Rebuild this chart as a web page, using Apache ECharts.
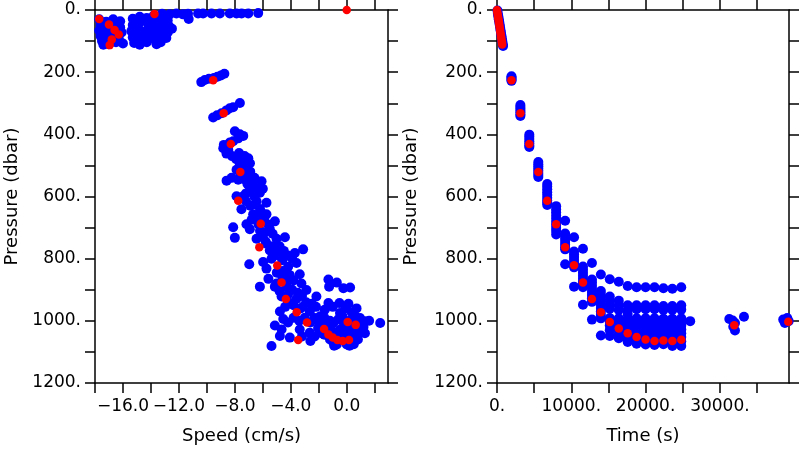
<!DOCTYPE html>
<html>
<head>
<meta charset="utf-8">
<script src="https://cdn.jsdelivr.net/npm/echarts@6/dist/echarts.min.js"></script>
<style>html,body{margin:0;padding:0;background:#fff;}#c{width:800px;height:450px;}</style>
</head>
<body>
<div id="c"></div>
<script>
// ---------- tick / label values ----------
const speedTicks = [-18,-16,-14,-12,-10,-8,-6,-4,-2,0,2];
const speedLabels = [-16,-12,-8,-4,0];
const pressTicks = [0,100,200,300,400,500,600,700,800,900,1000,1100,1200];
const pressLabels = [0,200,400,600,800,1000,1200];
const timeTicks = [0,5000,10000,15000,20000,25000,30000,35000];
const timeLabels = [0,10000,20000,30000];

// ---------- left panel: speed (cm/s) vs pressure (dbar) ----------
const speedPressBlue = [
  // surface descent cluster
  [-17.7,30],[-17.6,48],[-17.7,66],[-17.6,84],[-17.5,100],[-17.4,112],
  [-17.2,38],[-17.1,58],[-17.2,76],[-17.1,94],[-17.0,110],
  [-16.7,30],[-16.6,50],[-16.7,70],[-16.6,88],[-16.5,104],
  [-16.2,36],[-16.2,56],[-16.1,72],[-16.3,92],[-16.0,108],
  [-15.3,28],[-15.3,48],[-15.4,68],[-15.3,88],[-15.2,106],
  [-14.8,22],[-14.8,40],[-14.9,60],[-14.8,80],[-14.7,98],[-14.8,112],
  [-14.3,26],[-14.2,46],[-14.3,66],[-14.2,86],[-14.3,104],
  [-13.8,18],[-13.8,36],[-13.7,56],[-13.8,76],[-13.7,96],[-13.6,110],
  [-13.3,24],[-13.2,44],[-13.3,64],[-13.2,84],[-13.3,104],
  [-12.8,34],[-12.7,52],[-12.8,72],[-12.9,90],[-12.5,60],
  [-13.2,12],[-12.66,14],[-12.18,11],[-11.71,14],[-11.3,29],[-11.35,12],[-10.63,11],
  [-10.27,11],[-9.67,11],[-9.07,11],[-8.36,11],[-7.88,11],[-7.52,11],[-7.04,11],[-6.33,10],
  // ~220 dbar
  [-10.4,232],[-10.15,225],[-9.85,221],[-9.5,219],[-9.25,215],[-9.0,211],[-8.75,205],
  // ~330 dbar
  [-9.55,346],[-9.27,339],[-8.95,332],[-8.6,323],[-8.36,316],[-8.12,313],[-7.64,299],
  // ~420 dbar
  [-8.0,390],[-7.64,400],[-7.4,405],[-7.76,413],[-8.12,422],[-8.36,426],[-8.79,434],[-8.83,445],[-8.47,450],
  // ~500 dbar
  [-7.04,477],[-6.92,493],[-7.4,487],[-7.64,498],[-7.88,514],[-7.16,511],[-7.28,524],[-7.04,535],
  [-8.23,540],[-8.59,549],[-7.76,546],[-6.8,551],[-6.09,551],[-6.92,572],[-6.56,577],
  [-8.6,462],[-8.2,470],[-7.7,460],[-7.3,470],[-7.9,480],[-7.6,530],[-7.3,545],[-6.9,520],
  [-6.6,540],[-7.1,560],[-6.4,560],[-6.0,575],[-7.2,590],
  // main streak
  [-7.88,599],[-7.41,599],[-6.93,583],[-6.81,572],[-6.21,588],[-6.45,615],[-6.57,625],[-5.74,620],
  [-7.53,641],[-6.69,657],[-6.09,652],[-5.74,657],[-5.14,680],[-7.17,689],[-6.93,705],[-8.12,699],
  [-8.0,733],[-5.86,715],[-5.5,705],[-6.45,736],[-5.02,736],[-4.42,731],[-5.74,752],[-5.5,774],
  [-3.71,782],[-3.12,770],[-6.97,818],[-5.98,811],[-5.74,832],[-5.38,800],[-4.19,826],[-3.59,814],
  [-4.07,853],[-3.36,850],[-6.21,890],[-5.14,890],[-5.02,880],[-4.3,890],[-3.24,880],[-2.88,901],
  [-2.17,922],[-4.66,922],[-4.07,943],[-4.78,970],[-3.12,954],[-2.64,970],[-2.29,991],[-1.57,964],
  [-4.54,994],[-5.14,1015],[-4.66,1028],[-4.78,1049],[-4.07,1054],[-5.38,1081],[-3.36,1028],
  [-2.64,1038],[-2.05,1023],
  [-6.6,600],[-6.2,640],[-5.9,670],[-6.3,690],[-6.0,730],[-5.3,760],[-4.9,790],[-4.6,840],
  [-4.4,870],[-3.9,900],[-3.6,930],[-3.3,960],[-3.0,990],[-2.6,1005],[-3.8,990],[-4.2,1005],
  [-3.5,910],[-2.5,945],[-1.9,985],[-1.8,1010],[-2.6,1065],[-3.2,1050],
  [-7.2,615],[-6.9,630],[-6.4,665],[-6.8,675],[-5.6,690],[-5.3,720],[-6.2,710],[-5.8,745],
  [-4.8,760],[-4.5,775],[-4.2,790],[-5.2,780],[-4.6,805],[-3.9,800],
  [-5.0,845],[-4.6,860],[-3.8,870],[-5.6,865],[-4.8,905],[-4.2,915],[-3.2,920],[-2.9,940],
  [-3.8,950],[-4.4,955],[-2.2,955],[-2.0,1000],[-3.4,1000],[-2.3,1050],[-1.6,1045],
  // bottom-right clump
  [-1.31,867],[-0.71,877],[-1.26,890],[-0.24,895],[0.24,893],[-0.52,943],[0.12,945],[-1.31,943],
  [-0.48,975],[0.36,973],[0.95,991],[1.31,1001],[2.39,1007],[-1.43,1006],[-0.95,1006],
  [-0.48,1028],[0.0,1023],[0.48,1028],[-0.71,1076],[0.0,1076],[-0.95,1070],
  [-1.1,1030],[-0.2,1045],[0.5,1050],[1.0,1015],[0.9,1040],[-1.0,955],[-0.1,960],[0.7,960],
  [0.9,1000],[1.6,1000],[-1.2,1060],[-0.4,1060],[0.3,1065],
  [-1.6,990],[-0.6,995],[0.2,1000],[-0.2,1010],[0.6,985],[1.2,1020],[-1.5,1025],[0.5,1075],
  [-1.2,1000],[-0.3,985],[0.4,1040],[-0.8,1040],[0.8,1060],[-1.8,1040],[1.3,1040],[-0.9,1080],[0.2,1080]
];
const speedPressRed = [
  [-17.7,29],[-17.0,47],[-16.6,64],[-16.3,79],[-16.8,95],[-16.95,113],[-13.75,13],[0,0],
  [-9.55,226],[-8.8,332],[-8.29,431],[-7.61,521],[-7.76,614],[-6.15,688],[-6.25,763],
  [-4.97,822],[-4.66,877],[-4.35,930],[-3.58,972],[-2.84,1005],[-3.47,1062],
  [-1.62,1026],[-1.31,1044],[-1.0,1054],[-0.67,1062],[-0.29,1065],[0.16,1062],[0.07,1004],[0.64,1013]
];

// ---------- right panel: time (s) vs pressure (dbar) ----------
const descentBlue = [[60,2],[120,12],[180,21],[240,30],[300,38],[360,47],[420,56],[480,65],[540,74],[600,83],[660,92],[720,101],[780,110],[820,116]];
const descentRed = [[0,0],[50,8],[100,16],[150,24],[210,32],[260,40],[310,48],[360,56],[410,64],[460,72],[510,80],[560,88],[610,96],[660,104],[700,111]];
const colTimes = [1950,3150,4350,5560,6760,7960,9170,10370,11570,12780,13980,15180,16390,17590,18790,20000,21200,22400,23600,24800,26000];
const colPressures = [
  [213,217,221,225,228],
  [306,312,318,324,330,336,341],
  [401,408,415,422,429,436,441],
  [489,496,503,510,517,524,531,537],
  [560,568,577,586,595,604,613,620,627],
  [631,641,651,661,671,681,691,701,711,722],
  [678,719,728,737,746,755,763,770,818],
  [731,777,786,795,804,813,821,828,890],
  [768,825,835,845,855,865,875,884,892,948],
  [814,867,877,887,897,907,917,927,939,996],
  [851,904,915,926,937,948,959,970,981,992,1047],
  [866,922,935,948,961,991,1002,1015,1030,1049],
  [874,935,950,965,992,1005,1018,1031,1044,1056],
  [888,950,965,978,993,1006,1019,1032,1047,1060,1068],
  [892,950,963,992,1004,1016,1028,1040,1055,1068,1074],
  [892,950,963,992,1004,1016,1028,1040,1052,1066,1076],
  [892,950,963,992,1004,1016,1028,1040,1052,1068,1078],
  [895,952,965,993,1005,1017,1029,1041,1053,1066,1075],
  [897,952,965,993,1005,1017,1029,1041,1053,1068,1081],
  [892,950,964,992,1004,1016,1028,1040,1052,1066,1081],
  [1001]
];
const lateBlue = [[31265,994],[31720,999],[32030,1007],[31800,1019],[32030,1031],[33240,987],[38520,996],[38750,1007],[39060,991],[39250,1001]];
const timePressRed = [
  [1950,226],[3150,332],[4350,431],[5560,521],[6760,614],[7960,689],[9170,763],[10370,821],
  [11570,877],[12780,930],[13980,972],[15180,1004],[16390,1025],[17590,1040],[18790,1052],
  [20000,1060],[21200,1065],[22400,1063],[23600,1065],[24800,1061],[31935,1014],[39200,1003]
];

// ---------- build ----------
const timePressBlue = descentBlue.slice();
colTimes.forEach((t, i) => colPressures[i].forEach(p => timePressBlue.push([t, p])));
lateBlue.forEach(d => timePressBlue.push(d));
const timePressRedAll = descentRed.concat(timePressRed);

const FONT = 'DejaVu Sans';
const lineStyle = {color: '#000', width: 1.5};
const fmtSpeed = v => (v < 0 ? '\u2212' : '') + Math.abs(v).toFixed(1);
const fmtDot = v => String(v) + '.';

function xAxisDef(grid, pos, min, max, ticks, labels, fmt, name) {
  const ax = {
    gridIndex: grid, type: 'value', position: pos, min: min, max: max,
    axisLine: {show: true, onZero: false, lineStyle: lineStyle},
    axisTick: {show: true, inside: false, length: 10, customValues: ticks, lineStyle: lineStyle},
    splitLine: {show: false},
    axisLabel: pos === 'bottom'
      ? {show: true, customValues: labels, formatter: fmt, margin: 15, fontSize: 17, color: '#000', fontFamily: FONT}
      : {show: false}
  };
  if (name) {
    ax.name = name; ax.nameLocation = 'middle'; ax.nameGap = 44;
    ax.nameTextStyle = {fontSize: 18, color: '#000', fontFamily: FONT};
  }
  return ax;
}
function yAxisDef(grid, pos, name, gap) {
  const ax = {
    gridIndex: grid, type: 'value', position: pos, min: 0, max: 1200, inverse: true,
    axisLine: {show: true, onZero: false, lineStyle: lineStyle},
    axisTick: {show: true, inside: false, length: 10, customValues: pressTicks, lineStyle: lineStyle},
    splitLine: {show: false},
    axisLabel: pos === 'left'
      ? {show: true, customValues: pressLabels, formatter: fmtDot, margin: 14, fontSize: 17, color: '#000', fontFamily: FONT}
      : {show: false}
  };
  if (name) {
    ax.name = name; ax.nameLocation = 'middle'; ax.nameGap = gap;
    ax.nameTextStyle = {fontSize: 18, color: '#000', fontFamily: FONT};
  }
  return ax;
}

const chart = echarts.init(document.getElementById('c'), null, {renderer: 'canvas'});
chart.setOption({
  backgroundColor: '#fff',
  animation: false,
  grid: [
    {left: 95, top: 10, width: 293, height: 377.5},
    {left: 497, top: 10, width: 292, height: 377.5}
  ],
  xAxis: [
    xAxisDef(0, 'bottom', -18, 2.95, speedTicks, speedLabels, fmtSpeed, 'Speed (cm/s)'),
    xAxisDef(0, 'top', -18, 2.95, speedTicks, speedLabels, fmtSpeed, null),
    xAxisDef(1, 'bottom', 0, 39300, timeTicks, timeLabels, fmtDot, 'Time (s)'),
    xAxisDef(1, 'top', 0, 39300, timeTicks, timeLabels, fmtDot, null)
  ],
  yAxis: [
    yAxisDef(0, 'left', 'Pressure (dbar)', 74),
    yAxisDef(0, 'right', null),
    yAxisDef(1, 'left', 'Pressure (dbar)', 77),
    yAxisDef(1, 'right', null)
  ],
  series: [
    {type: 'scatter', xAxisIndex: 0, yAxisIndex: 0, data: speedPressBlue, symbolSize: 10,
     itemStyle: {color: '#0000ff', opacity: 1}, z: 2},
    {type: 'scatter', xAxisIndex: 0, yAxisIndex: 0, data: speedPressRed, symbolSize: 8.5,
     itemStyle: {color: '#ff0000', opacity: 1}, z: 3},
    {type: 'scatter', xAxisIndex: 2, yAxisIndex: 2, data: timePressBlue, symbolSize: 10,
     itemStyle: {color: '#0000ff', opacity: 1}, z: 2},
    {type: 'scatter', xAxisIndex: 2, yAxisIndex: 2, data: timePressRedAll, symbolSize: 8.5,
     itemStyle: {color: '#ff0000', opacity: 1}, z: 3}
  ]
});
</script>
</body>
</html>
